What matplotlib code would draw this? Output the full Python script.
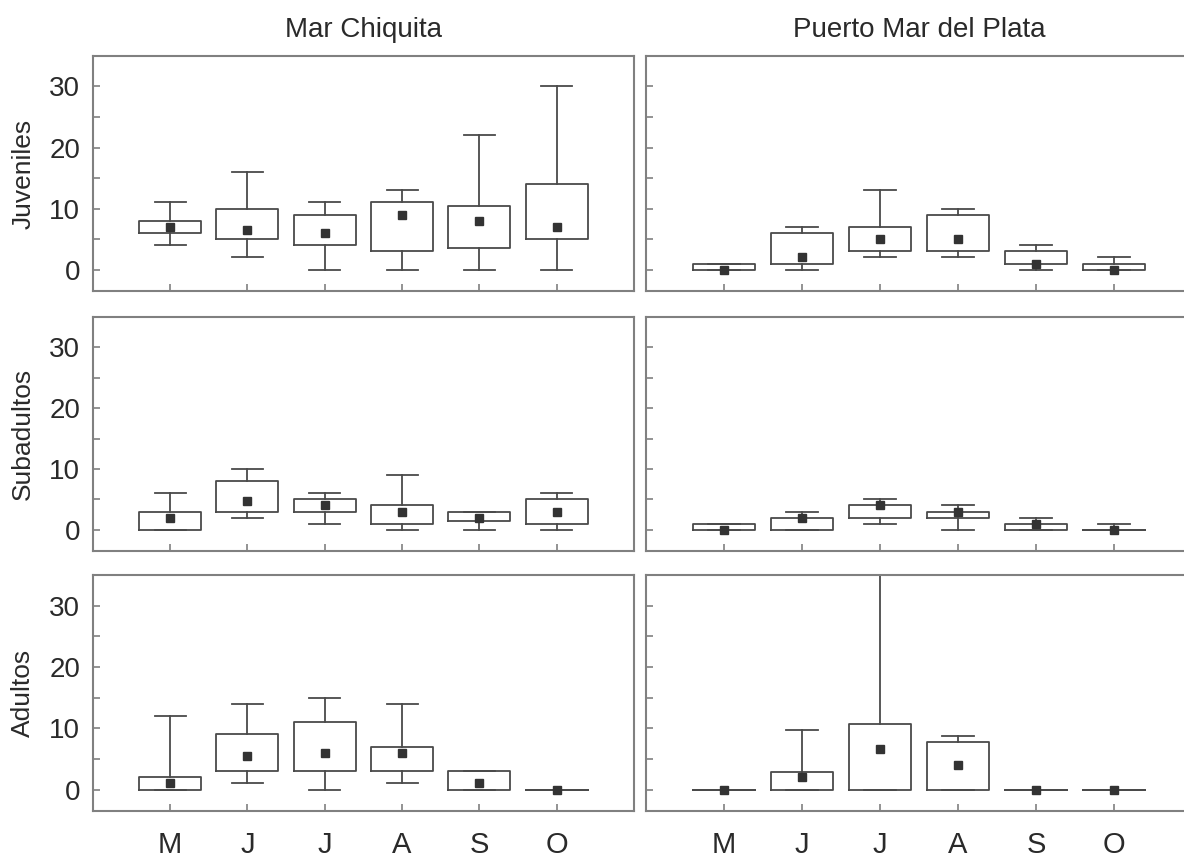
import matplotlib
matplotlib.use('Agg')
import matplotlib.pyplot as plt

plt.rcParams['font.family'] = ['Liberation Sans', 'DejaVu Sans']

months = ['M', 'J', 'J', 'A', 'S', 'O']
sites = ['Mar Chiquita', 'Puerto Mar del Plata']
stages = ['Juveniles', 'Subadultos', 'Adultos']

# (whisker low, q1, median, q3, whisker high) per month
mc_juveniles = [(4, 6, 7, 8, 11), (2, 5, 6.5, 10, 16), (0, 4, 6, 9, 11),
                (0, 3, 9, 11, 13), (0, 3.5, 8, 10.5, 22), (0, 5, 7, 14, 30)]
pm_juveniles = [(0, 0, 0, 1, 1), (0, 1, 2, 6, 7), (2, 3, 5, 7, 13),
                (2, 3, 5, 9, 10), (0, 1, 1, 3, 4), (0, 0, 0, 1, 2)]
mc_subadultos = [(0, 0, 2, 3, 6), (2, 3, 4.7, 8, 10), (1, 3, 4, 5, 6),
                 (0, 1, 3, 4, 9), (0, 1.5, 2, 3, 3), (0, 1, 3, 5, 6)]
pm_subadultos = [(0, 0, 0, 1, 1), (0, 0, 2, 2, 3), (1, 2, 4, 4, 5),
                 (0, 2, 3, 3, 4), (0, 0, 1, 1, 2), (0, 0, 0, 0, 1)]
mc_adultos = [(0, 0, 1, 2, 12), (1, 3, 5.5, 9, 14), (0, 3, 6, 11, 15),
              (1, 3, 6, 7, 14), (0, 0, 1, 3, 3), (0, 0, 0, 0, 0)]
pm_adultos = [(0, 0, 0, 0, 0), (0, 0, 2, 2.9, 9.7), (0, 0, 6.6, 10.7, 35),
              (0, 0, 4, 7.7, 8.7), (0, 0, 0, 0, 0), (0, 0, 0, 0, 0)]

panels = [[mc_juveniles, pm_juveniles],
          [mc_subadultos, pm_subadultos],
          [mc_adultos, pm_adultos]]

fig = plt.figure(figsize=(11.84, 8.61), dpi=100)

col_x = [(0.0783, 0.4572), (0.5456, 0.4612)]
row_y = [(0.662, 0.273), (0.360, 0.272), (0.058, 0.274)]

line_c = '#4a4a4a'
spine_c = '#808080'
text_c = '#2a2a2a'

for r in range(3):
    for c in range(2):
        ax = fig.add_axes([col_x[c][0], row_y[r][0], col_x[c][1], row_y[r][1]])
        stats = []
        for (lo, q1, med, q3, hi) in panels[r][c]:
            stats.append({'whislo': lo, 'q1': q1, 'med': med, 'q3': q3,
                          'whishi': hi, 'fliers': []})
        pos = list(range(1, len(months) + 1))
        ax.bxp(stats, positions=pos, widths=0.8, showfliers=False,
               showcaps=True,
               boxprops=dict(color=line_c, linewidth=1.3),
               whiskerprops=dict(color=line_c, linewidth=1.3),
               capprops=dict(color=line_c, linewidth=1.3),
               medianprops=dict(linewidth=0))
        ax.plot(pos, [s['med'] for s in stats], 's', color='#333333',
                markersize=6, zorder=5)
        ax.set_xlim(0, 7)
        ax.set_ylim(-3.5, 35)
        ax.set_yticks([0, 5, 10, 15, 20, 25, 30])
        if c == 0:
            ax.set_yticklabels(['0', '', '10', '', '20', '', '30'], fontsize=20)
            ax.set_ylabel(stages[r], fontsize=19, labelpad=10, color=text_c)
        else:
            ax.set_yticklabels([])
        ax.set_xticks(pos)
        if r == 2:
            ax.set_xticklabels(months, fontsize=21)
        else:
            ax.set_xticklabels([])
        if r == 0:
            ax.set_title(sites[c], fontsize=20, pad=14, color=text_c)
        ax.tick_params(direction='in', length=5, width=1.2, color=spine_c,
                       pad=9, labelcolor=text_c)
        ax.tick_params(axis='x', pad=14)
        for sp in ax.spines.values():
            sp.set_color(spine_c)
            sp.set_linewidth(1.5)

fig.savefig('out.png', dpi=100)
